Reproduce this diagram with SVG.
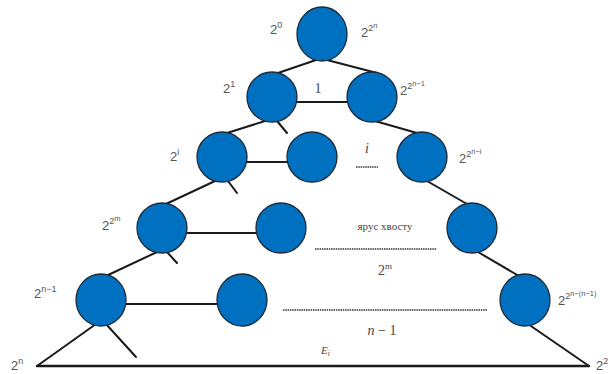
<svg xmlns="http://www.w3.org/2000/svg" width="615" height="374" viewBox="0 0 615 374">
<style>
.n{fill:#0070C0;stroke:#1e2a36;stroke-width:1.3}
.e{stroke:#1a1a1a;stroke-width:2;fill:none;stroke-linecap:round}
.d{stroke:#333;stroke-width:1.4;stroke-dasharray:1.5 0.8;fill:none}
.l{font-family:"Liberation Sans","DejaVu Sans",sans-serif;font-size:13px;fill:#555}
.s{font-size:9px}
.ss{font-size:7.5px}
.t{font-family:"Liberation Serif","DejaVu Serif",serif;font-size:14px;fill:#444}
</style>
<rect width="615" height="374" fill="#fff"/>
<g id="connectors">
<line class="e" x1="316" y1="60" x2="278" y2="73"/>
<line class="e" x1="327" y1="60" x2="377" y2="73"/>
<line class="e" x1="297" y1="102" x2="347" y2="102"/>
<line class="e" x1="265" y1="121" x2="227" y2="133"/>
<line class="e" x1="277" y1="121" x2="287" y2="133"/>
<line class="e" x1="375" y1="121" x2="417" y2="133"/>
<line class="e" x1="247" y1="162" x2="287" y2="162"/>
<line class="e" x1="215" y1="181" x2="166" y2="204"/>
<line class="e" x1="228" y1="181" x2="237" y2="193"/>
<line class="e" x1="427" y1="181" x2="467" y2="204"/>
<line class="e" x1="187" y1="233" x2="256" y2="233"/>
<line class="e" x1="157" y1="252" x2="106" y2="276"/>
<line class="e" x1="167" y1="252" x2="177" y2="263"/>
<line class="e" x1="478" y1="252" x2="519" y2="276"/>
<line class="e" x1="126" y1="304" x2="217" y2="304"/>
<line class="e" x1="96" y1="324" x2="37" y2="366"/>
<line class="e" x1="106" y1="324" x2="136" y2="357"/>
<line class="e" x1="528" y1="324" x2="589" y2="366"/>
<line class="e" x1="37" y1="366" x2="589" y2="366" style="stroke-width:2.5"/>
<line class="d" x1="356" y1="167" x2="378" y2="167"/>
<line class="d" x1="315" y1="249" x2="437" y2="249"/>
<line class="d" x1="283" y1="310" x2="487" y2="310"/>
</g>
<g id="n0"><ellipse class="n" cx="322" cy="34" rx="25" ry="27"/></g>
<g id="n1a"><ellipse class="n" cx="272" cy="97" rx="25" ry="25"/></g>
<g id="n1b"><ellipse class="n" cx="372" cy="97" rx="25" ry="25"/></g>
<g id="n2a"><ellipse class="n" cx="222" cy="157" rx="25" ry="25"/></g>
<g id="n2b"><ellipse class="n" cx="312" cy="157" rx="25" ry="25"/></g>
<g id="n2c"><ellipse class="n" cx="422" cy="157" rx="25" ry="25"/></g>
<g id="n3a"><ellipse class="n" cx="162" cy="228" rx="25" ry="25"/></g>
<g id="n3b"><ellipse class="n" cx="281" cy="228" rx="25" ry="25"/></g>
<g id="n3c"><ellipse class="n" cx="472" cy="228" rx="25" ry="25"/></g>
<g id="n4a"><ellipse class="n" cx="101" cy="300" rx="25" ry="26"/></g>
<g id="n4b"><ellipse class="n" cx="242" cy="300" rx="25" ry="26"/></g>
<g id="n4c"><ellipse class="n" cx="525" cy="300" rx="25" ry="26"/></g>
<g id="labels">
<text class="l" x="270" y="34">2<tspan class="s" dy="-6">0</tspan></text>
<text class="l" x="361" y="37">2<tspan class="s" dy="-6">2</tspan><tspan class="ss" dy="-3">n</tspan></text>
<text class="l" x="223" y="93">2<tspan class="s" dy="-6">1</tspan></text>
<text class="t" x="318" y="93" text-anchor="middle">1</text>
<text class="l" x="400" y="95">2<tspan class="s" dy="-6">2</tspan><tspan class="ss" dy="-3">n−1</tspan></text>
<text class="l" x="170" y="161">2<tspan class="s" dy="-6">i</tspan></text>
<text class="t" x="367" y="153" text-anchor="middle" font-style="italic">i</text>
<text class="l" x="459" y="163">2<tspan class="s" dy="-6">2</tspan><tspan class="ss" dy="-3">n−i</tspan></text>
<text class="l" x="102" y="230">2<tspan class="s" dy="-6">2</tspan><tspan class="ss" dy="-3">m</tspan></text>
<text class="t" x="385" y="230" text-anchor="middle" style="font-size:11px">ярус хвосту</text>
<text class="t" x="385" y="275" text-anchor="middle">2<tspan class="s" dy="-6">m</tspan></text>
<text class="l" x="34" y="298">2<tspan class="s" dy="-6">n−1</tspan></text>
<text class="l" x="558" y="305">2<tspan class="s" dy="-6">2</tspan><tspan class="ss" dy="-3">n−(n−1)</tspan></text>
<text class="t" x="382" y="335" text-anchor="middle"><tspan font-style="italic">n</tspan> − 1</text>
<text class="t" x="321" y="354" font-style="italic" style="font-size:11px">E<tspan class="ss" dy="2">i</tspan></text>
<text class="l" x="11" y="370">2<tspan class="s" dy="-6">n</tspan></text>
<text class="l" x="596" y="370">2<tspan class="s" dy="-6">2</tspan></text>
</g>
</svg>
